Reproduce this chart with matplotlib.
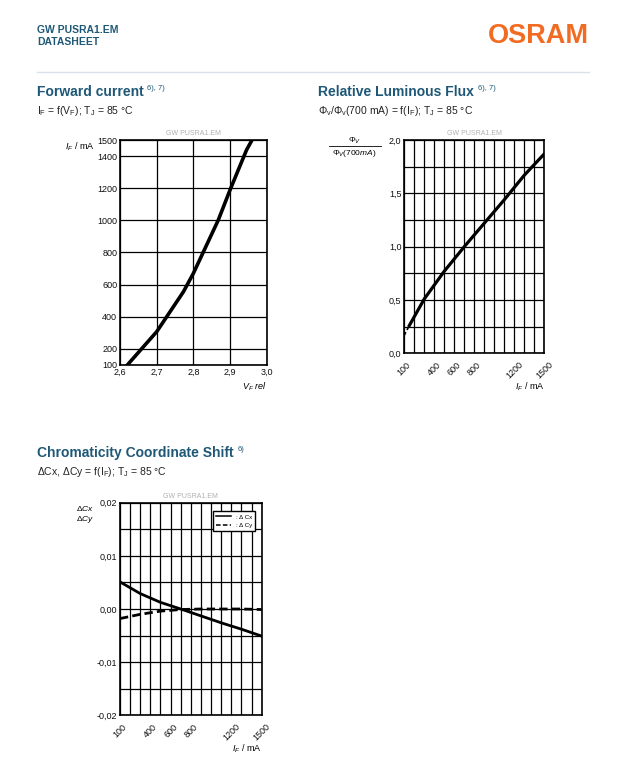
import matplotlib
matplotlib.use("Agg")
import matplotlib.pyplot as plt
import numpy as np

plt.rcParams['font.family'] = ['Liberation Sans', 'DejaVu Sans']
plt.rcParams['mathtext.fontset'] = 'custom'
plt.rcParams['mathtext.rm'] = 'Liberation Sans'
plt.rcParams['mathtext.it'] = 'Liberation Sans:italic'

# forward current data
vf_rel = [2.62, 2.70, 2.773, 2.80, 2.868, 2.90, 2.945, 2.96]
if_ma = [100, 307, 556, 670, 1002, 1189, 1438, 1500]
fc_yticks = [100, 200, 400, 600, 800, 1000, 1200, 1400, 1500]
fc_xticks = [2.6, 2.7, 2.8, 2.9, 3.0]

# relative luminous flux data
flux_if = [100, 150, 300, 500, 700, 900, 1100, 1300, 1500]
flux_rel = [0.17, 0.26, 0.51, 0.77, 1.0, 1.22, 1.44, 1.67, 1.87]

# chromaticity shift data
chrom_if = [100, 300, 500, 700, 900, 1100, 1300, 1500]
dcx = [0.0051, 0.0029, 0.00125, 0.0, -0.0013, -0.0026, -0.0038, -0.0051]
dcy = [-0.0018, -0.0010, -0.0004, -0.0001, 0.0, 0.0, 0.0, -0.0001]

current_ticks = [100, 400, 600, 800, 1200, 1500]

W, H = 624, 760
teal = '#1f5876'
fig = plt.figure(figsize=(W / 100, H / 100), dpi=100)


def box(x0, y0, x1, y1):
    return [x0 / W, 1 - y1 / H, (x1 - x0) / W, (y1 - y0) / H]


def style(ax):
    for s in ax.spines.values():
        s.set_linewidth(1.2)
    ax.tick_params(length=0, labelsize=6.5, pad=2, labelcolor='#111111')
    ax.grid(True, color='black', linewidth=0.9)
    ax.set_axisbelow(True)


# header
fig.text(37 / W, 1 - 30 / H, 'GW PUSRA1.EM', fontsize=7.5, fontweight='bold', color=teal, va='center')
fig.text(37 / W, 1 - 42 / H, 'DATASHEET', fontsize=7.5, fontweight='bold', color=teal, va='center')
fig.text(589 / W, 1 - 36 / H, 'OSRAM', fontsize=19.5, fontweight='bold', color='#f26b22', ha='right', va='center')
fig.add_artist(plt.Line2D([37 / W, 589 / W], [1 - 72 / H, 1 - 72 / H], color='#d8e2ec', linewidth=1))


def title(x, y, t, sup, sub):
    tt = fig.text(x / W, 1 - y / H, t, fontsize=10, fontweight='bold', color=teal, va='center')
    fig.canvas.draw()
    bb = tt.get_window_extent()
    fig.text(bb.x1 / W + 0.006, 1 - (y - 3) / H, sup, fontsize=5.5, color=teal, va='center')
    fig.text(x / W, 1 - (y + 19) / H, sub, fontsize=7.5, color='#222222', va='center')


# forward current
ax1 = fig.add_axes(box(120, 140, 266.7, 365))
ax1.plot(vf_rel, if_ma, color='black', linewidth=2.6)
ax1.set_xlim(2.6, 3.0)
ax1.set_ylim(100, 1500)
ax1.set_xticks(fc_xticks)
ax1.set_xticklabels([f'{v:.1f}'.replace('.', ',') for v in fc_xticks])
ax1.set_yticks(fc_yticks)
style(ax1)
ax1.text(0.5, 1.015, 'GW PUSRA1.EM', transform=ax1.transAxes, ha='center', va='bottom', fontsize=5, color='#b0b0b0')
ax1.text(-0.17, 0.97, r'$\mathit{I}_\mathit{F}$ / mA', transform=ax1.transAxes, ha='right', va='center', fontsize=6.5)
ax1.text(1.0, -0.095, r'$\mathit{V}_\mathit{F}$ $\mathit{rel}$', transform=ax1.transAxes, ha='right', va='center', fontsize=6.5)
title(37, 92, 'Forward current', '6), 7)', r'I$_\mathregular{F}$ = f(V$_\mathregular{F}$); T$_\mathregular{J}$ = 85 °C')

# relative luminous flux
ax2 = fig.add_axes(box(404.3, 140, 544.3, 353.3))
ax2.plot(flux_if[:2], flux_rel[:2], color='black', linewidth=1.2, linestyle=(0, (2, 1.5)))
ax2.plot(flux_if[1:], flux_rel[1:], color='black', linewidth=2.3)
ax2.set_xlim(100, 1500)
ax2.set_ylim(0, 2.0)
ax2.set_xticks(np.arange(100, 1501, 100), minor=True)
ax2.set_xticks(current_ticks)
ax2.set_xticklabels([str(v) for v in current_ticks], rotation=45, ha='center', va='top')
ax2.set_yticks(np.arange(0, 2.01, 0.25), minor=True)
ax2.set_yticks([0, 0.5, 1.0, 1.5, 2.0])
ax2.set_yticklabels(['0,0', '0,5', '1,0', '1,5', '2,0'])
style(ax2)
ax2.grid(True, which='minor', color='black', linewidth=0.9)
ax2.tick_params(which='minor', length=0)
ax2.tick_params(axis='x', pad=5)
ax2.text(0.5, 1.015, 'GW PUSRA1.EM', transform=ax2.transAxes, ha='center', va='bottom', fontsize=5, color='#b0b0b0')
ax2.text(-0.355, 0.998, r'$\mathit{\Phi}_\mathit{V}$', transform=ax2.transAxes, ha='center', va='center', fontsize=6)
ax2.text(-0.355, 0.937, r'$\mathit{\Phi}_\mathit{V}\mathit{(700mA)}$', transform=ax2.transAxes, ha='center', va='center', fontsize=6)
ax2.add_artist(plt.Line2D([-0.54, -0.17], [0.97, 0.97], transform=ax2.transAxes, color='black', linewidth=0.6, clip_on=False))
ax2.text(1.0, -0.155, r'$\mathit{I}_\mathit{F}$ / mA', transform=ax2.transAxes, ha='right', va='center', fontsize=6.5)
title(318, 92, 'Relative Luminous Flux', '6), 7)', r'$\Phi_\mathregular{v}$/$\Phi_\mathregular{v}$(700 mA) = f(I$_\mathregular{F}$); T$_\mathregular{J}$ = 85 °C')

# chromaticity coordinate shift
ax3 = fig.add_axes(box(120, 502.7, 261.7, 715.3))
ax3.plot(chrom_if, dcx, color='black', linewidth=2.0, label=': Δ Cx')
ax3.plot(chrom_if, dcy, color='black', linewidth=2.0, linestyle=(0, (3, 1.5)), label=': Δ Cy')
ax3.set_xlim(100, 1500)
ax3.set_ylim(-0.02, 0.02)
ax3.set_xticks(np.arange(100, 1501, 100), minor=True)
ax3.set_xticks(current_ticks)
ax3.set_xticklabels([str(v) for v in current_ticks], rotation=45, ha='center', va='top')
ax3.set_yticks(np.arange(-0.02, 0.0201, 0.005), minor=True)
ax3.set_yticks([-0.02, -0.01, 0, 0.01, 0.02])
ax3.set_yticklabels(['-0,02', '-0,01', '0,00', '0,01', '0,02'])
style(ax3)
ax3.grid(True, which='minor', color='black', linewidth=0.9)
ax3.tick_params(which='minor', length=0)
ax3.tick_params(axis='x', pad=5)
leg = ax3.legend(loc='upper right', fontsize=4.5, frameon=True, fancybox=False, handlelength=2.4,
                 borderpad=0.5, labelspacing=0.45, bbox_to_anchor=(0.975, 0.975))
leg.get_frame().set_edgecolor('black')
leg.get_frame().set_linewidth(1.0)
leg.get_frame().set_alpha(1)
for ln in leg.get_lines():
    ln.set_linewidth(1.1)
ax3.text(0.5, 1.015, 'GW PUSRA1.EM', transform=ax3.transAxes, ha='center', va='bottom', fontsize=5, color='#b0b0b0')
ax3.text(-0.18, 0.975, r'$\mathit{\Delta Cx}$', transform=ax3.transAxes, ha='right', va='center', fontsize=6)
ax3.text(-0.18, 0.92, r'$\mathit{\Delta Cy}$', transform=ax3.transAxes, ha='right', va='center', fontsize=6)
ax3.text(1.0, -0.155, r'$\mathit{I}_\mathit{F}$ / mA', transform=ax3.transAxes, ha='right', va='center', fontsize=6.5)
title(37, 453, 'Chromaticity Coordinate Shift', '6)', r'ΔCx, ΔCy = f(I$_\mathregular{F}$); T$_\mathregular{J}$ = 85 °C')

fig.savefig('out.png', dpi=100, facecolor='white')
